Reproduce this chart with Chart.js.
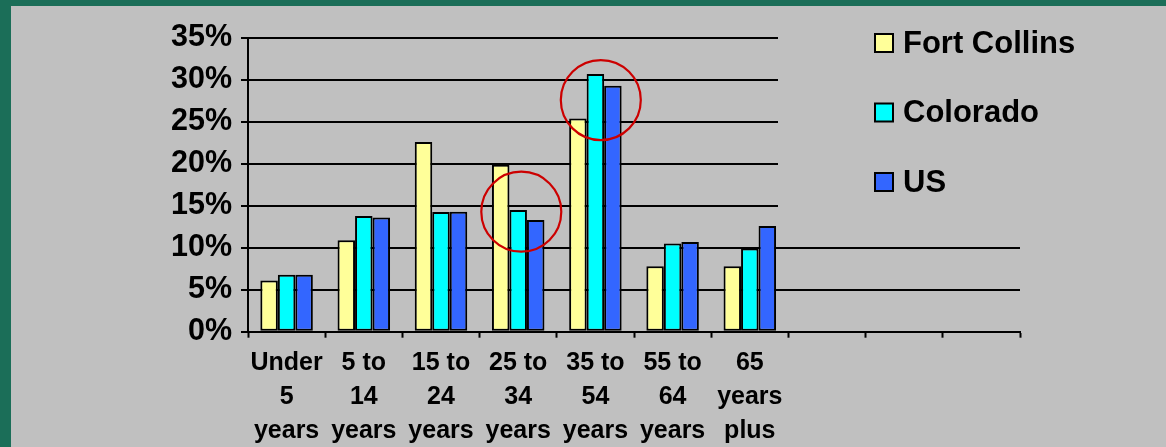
<!DOCTYPE html>
<html>
<head>
  <title>Age distribution</title>
  <script src="https://cdn.jsdelivr.net/npm/chart.js"></script>
  <style>
    body { margin: 0; background: #1b6e58; }
    #wrap {
      position: absolute; left: 11px; top: 6px;
      width: 1155px; height: 441px;
      background: #c0c0c0;
    }
  </style>
</head>
<body>
  <div id="wrap"><canvas id="chart"></canvas></div>

  <script>
    // age groups (last three slots are empty in the original slide)
    const categories = [
      ['Under', '5', 'years'], ['5 to', '14', 'years'], ['15 to', '24', 'years'],
      ['25 to', '34', 'years'], ['35 to', '54', 'years'], ['55 to', '64', 'years'],
      ['65', 'years', 'plus'], '', '', ''
    ];
    const fortCollins = [6.1, 10.9, 22.6, 19.9, 25.4, 7.8, 7.8, null, null, null];
    const colorado    = [6.8, 13.8, 14.25, 14.5, 30.7, 10.5, 9.9, null, null, null];
    const us          = [6.8, 13.6, 14.3, 13.3, 29.3, 10.7, 12.6, null, null, null];
    const yTicks = [0, 5, 10, 15, 20, 25, 30, 35];

    // red circles drawn on the slide: category index, offset in slots, value
    const circleCats = [3, 4];
    const circleShift = [0.04, 0.07];
    const circleVals = [14.3, 27.6];

    const legendCover = {
      id: 'legendCover',
      afterDraw(chart) {
        const ctx = chart.ctx;
        const xs = chart.scales.x, ys = chart.scales.y;
        ctx.save();
        // red circles
        ctx.strokeStyle = '#cc0000';
        ctx.lineWidth = 2.2;
        circleCats.forEach((c, i) => {
          const px = xs.getPixelForValue(c) + circleShift[i] * (xs.getPixelForValue(1) - xs.getPixelForValue(0));
          const py = ys.getPixelForValue(circleVals[i]);
          ctx.beginPath();
          ctx.arc(px, py, 40, 0, Math.PI * 2);
          ctx.stroke();
        });
        // legend box sits over the plot and hides the grid lines
        ctx.fillStyle = '#c0c0c0';
        ctx.fillRect(767, 0, 400, 224);
        ctx.font = 'bold 31px "Liberation Sans", Arial, sans-serif';
        ctx.textBaseline = 'middle';
        chart.data.datasets.forEach((ds, i) => {
          const cy = 37 + i * 69.5;
          ctx.fillStyle = ds.backgroundColor;
          ctx.fillRect(864, cy - 9, 18, 18);
          ctx.strokeStyle = '#000';
          ctx.lineWidth = 2;
          ctx.strokeRect(864, cy - 9, 18, 18);
          ctx.fillStyle = '#000';
          ctx.fillText(ds.label, 892, cy + 1);
        });
        ctx.restore();
      }
    };

    const ctx = document.getElementById('chart').getContext('2d');
    new Chart(ctx, {
      type: 'bar',
      data: {
        labels: categories,
        datasets: [
          { label: 'Fort Collins', data: fortCollins, backgroundColor: '#ffff99' },
          { label: 'Colorado', data: colorado, backgroundColor: '#00ffff' },
          { label: 'US', data: us, backgroundColor: '#3366ff' },
        ],
      },
      options: {
        responsive: true,
        maintainAspectRatio: false,
        animation: false,
        layout: { padding: { left: 0, right: 146, top: 32, bottom: 0 } },
        datasets: {
          bar: {
            borderColor: '#000',
            borderWidth: 2,
            borderSkipped: false,
            categoryPercentage: 0.68,
            barPercentage: 1.0,
          },
        },
        plugins: {
          legend: { display: false },
          tooltip: { enabled: false },
        },
        scales: {
          x: {
            afterFit(scale) { scale.height = 115.3; },
            grid: {
              drawOnChartArea: false,
              drawTicks: true,
              tickLength: 6,
              tickWidth: 2,
              color: '#000',
            },
            border: { color: '#000', width: 2 },
            ticks: {
              color: '#000',
              padding: 8,
              maxRotation: 0,
              autoSkip: false,
              font: { family: '"Liberation Sans", Arial, sans-serif', size: 25, weight: 'bold', lineHeight: 1.36 },
            },
          },
          y: {
            min: 0,
            max: 35,
            afterFit(scale) { scale.width = 237; },
            afterBuildTicks(scale) { scale.ticks = yTicks.map(v => ({ value: v })); },
            grid: { color: '#000', lineWidth: 2, tickLength: 7 },
            border: { color: '#000', width: 2 },
            ticks: {
              color: '#000',
              padding: 9,
              callback: v => v + '%',
              font: { family: '"Liberation Sans", Arial, sans-serif', size: 30.5, weight: 'bold' },
            },
          },
        },
      },
      plugins: [legendCover],
    });
  </script>
</body>
</html>
